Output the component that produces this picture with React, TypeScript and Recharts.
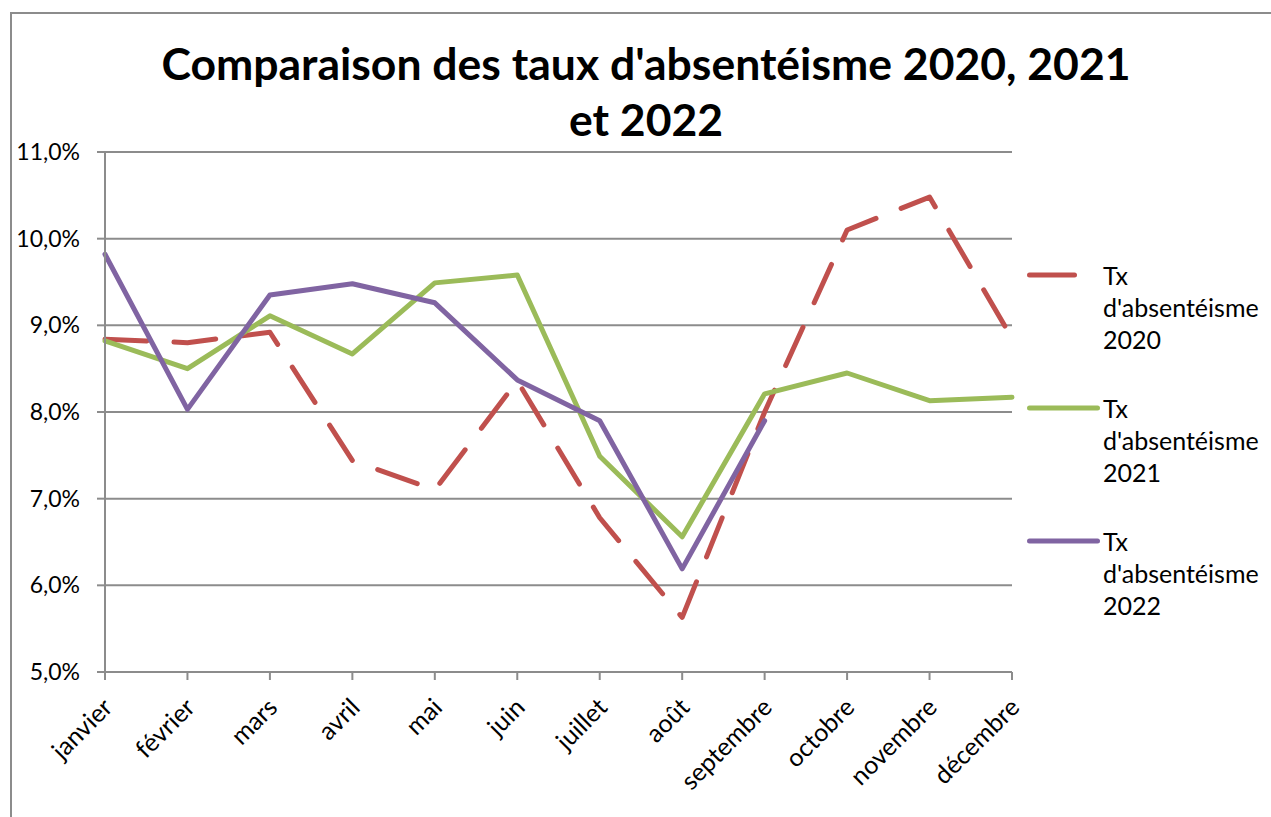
import { CartesianGrid, Legend, Line, LineChart, XAxis, YAxis } from 'recharts';

const months = ['janvier', 'février', 'mars', 'avril', 'mai', 'juin', 'juillet', 'août', 'septembre', 'octobre', 'novembre', 'décembre'];
const tx2020 = [8.84, 8.8, 8.92, 7.44, 7.1, 8.36, 6.78, 5.63, 8.0, 10.1, 10.48, 8.85];
const tx2021 = [8.82, 8.5, 9.11, 8.67, 9.49, 9.58, 7.49, 6.56, 8.21, 8.45, 8.13, 8.17];
const tx2022 = [9.82, 8.03, 9.35, 9.48, 9.26, 8.37, 7.9, 6.19, 7.9, null, null, null];
const yTicks = [5, 6, 7, 8, 9, 10, 11];

const series = [
  { key: 'a2020', name: "Tx d'absentéisme 2020", color: '#C0504D', dash: '42 27' },
  { key: 'a2021', name: "Tx d'absentéisme 2021", color: '#9BBB59', dash: undefined },
  { key: 'a2022', name: "Tx d'absentéisme 2022", color: '#8064A2', dash: undefined },
];

const data = months.map((m, i) => ({ month: m, a2020: tx2020[i], a2021: tx2021[i], a2022: tx2022[i] }));

const FONT = 'Lato, "Noto Sans", sans-serif';
const GRAY = '#8c8c8c';

const fmt = (v: number) => v.toFixed(1).replace('.', ',') + '%';

function MonthTick({ x, y, payload }: any) {
  return (
    <g transform={`translate(${x + 9},${y + 27})`}>
      <text transform="rotate(-45)" textAnchor="end" fontSize={25} fontFamily={FONT} fill="#000">
        {payload.value}
      </text>
    </g>
  );
}

function LegendBox() {
  return (
    <div style={{ fontFamily: FONT }}>
      {series.map((s) => (
        <div key={s.key} style={{ display: 'flex', height: 96, marginBottom: 37 }}>
          <svg width={76} height={32} style={{ flex: 'none' }}>
            <line
              x1={2.5}
              x2={s.dash ? 47.5 : 70.5}
              y1={16}
              y2={16}
              stroke={s.color}
              strokeWidth={5}
              strokeLinecap="round"
            />
          </svg>
          <div style={{ width: 168, fontSize: 25, lineHeight: '32px', color: '#000', textAlign: 'left' }}>{s.name}</div>
        </div>
      ))}
    </div>
  );
}

export default function App() {
  return (
    <div style={{ position: 'absolute', left: 0, top: 0, width: 1271, height: 817, background: '#fff' }}>
      <div
        style={{
          position: 'absolute',
          left: 10,
          top: 12,
          right: 0,
          bottom: 0,
          borderLeft: `2px solid ${GRAY}`,
          borderTop: `2px solid ${GRAY}`,
        }}
      />
      <div
        style={{
          position: 'absolute',
          left: 0,
          top: 35,
          width: 1292,
          textAlign: 'center',
          fontFamily: FONT,
          fontWeight: 700,
          fontSize: 44.5,
          lineHeight: '56px',
          color: '#000',
        }}
      >
        Comparaison des taux d'absentéisme 2020, 2021
        <br />
        et 2022
      </div>
      <LineChart width={1271} height={817} data={data} margin={{ top: 152, right: 259, bottom: 0, left: 0 }}>
        <CartesianGrid vertical={false} stroke={GRAY} strokeWidth={2} />
        <XAxis
          dataKey="month"
          interval={0}
          height={145}
          tickSize={8}
          axisLine={{ stroke: GRAY, strokeWidth: 2 }}
          tickLine={{ stroke: GRAY, strokeWidth: 2 }}
          tick={<MonthTick />}
        />
        <YAxis
          width={105}
          domain={[5, 11]}
          ticks={yTicks}
          tickFormatter={fmt}
          tickSize={8}
          tickMargin={17}
          axisLine={{ stroke: GRAY, strokeWidth: 2 }}
          tickLine={{ stroke: GRAY, strokeWidth: 2 }}
          tick={{ fill: '#000', fontSize: 23, fontFamily: FONT }}
        />
        {series.map((s) => (
          <Line
            key={s.key}
            type="linear"
            dataKey={s.key}
            name={s.name}
            stroke={s.color}
            strokeWidth={5}
            strokeDasharray={s.dash}
            strokeLinecap="round"
            strokeLinejoin="round"
            dot={false}
            activeDot={false}
            isAnimationActive={false}
          />
        ))}
        <Legend
          layout="vertical"
          align="center"
          verticalAlign="middle"
          wrapperStyle={{ position: 'absolute', left: 1027, top: 259, width: 244 }}
          content={() => <LegendBox />}
        />
      </LineChart>
    </div>
  );
}
